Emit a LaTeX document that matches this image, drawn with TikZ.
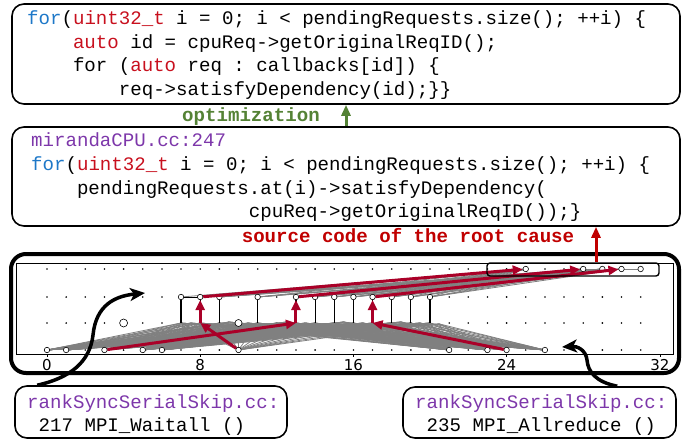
\documentclass[tikz,border=0pt]{standalone}
\usepackage{fontspec}
\setmonofont{Liberation Mono}
\setsansfont{DejaVu Sans}
\usetikzlibrary{arrows.meta}
\definecolor{kwblue}{RGB}{30,120,200}
\definecolor{kwred}{RGB}{200,16,30}
\definecolor{fpurple}{RGB}{125,55,170}
\definecolor{optgreen}{RGB}{84,130,53}
\definecolor{causered}{RGB}{192,0,0}
\definecolor{arrred}{RGB}{170,0,40}
\definecolor{edgegray}{RGB}{128,128,128}
\tikzset{
  codebox/.style={draw, line width=1.6pt, rounded corners=12pt, inner sep=0pt},
  code/.style={anchor=base west, inner sep=0pt, font=\fontsize{19.1}{24}\selectfont\ttfamily\frenchspacing},
  boldlbl/.style={anchor=base, inner sep=0pt, font=\fontsize{19.1}{24}\selectfont\ttfamily\bfseries\frenchspacing},
  axl/.style={anchor=center, inner sep=0pt, font=\fontsize{15}{15}\selectfont\sffamily},
  vtx/.style={circle, draw, fill=white, inner sep=0pt, minimum size=5.5pt, line width=0.6pt},
  gl/.style={draw=edgegray, line width=0.8pt},
  stem/.style={draw=black, line width=1.2pt},
  redarr/.style={draw=arrred, line width=3pt, -{Triangle[length=10pt,width=9pt]}},
  bigarr/.style={draw=black, line width=3.5pt, -{Stealth[length=15pt,width=13pt,inset=4pt]}},
  optarr/.style={draw=optgreen, line width=3pt, -{Triangle[length=11pt,width=9pt]}},
  rootarr/.style={draw=causered, line width=3pt, -{Triangle[length=11pt,width=9pt]}},
}
\begin{document}
\begin{tikzpicture}[x=1pt,y=-1pt]
\useasboundingbox (0,0) rectangle (694,441);

% ---------- code box 1 ----------
\node[codebox, minimum width=668pt, minimum height=100pt] (box1) at (346,54) {};
\node[code] (a1) at (27,25) {\textcolor{kwblue}{for}(\textcolor{kwred}{uint32\_t} i = 0; i < pendingRequests.size(); ++i) \{};
\node[code] (a2) at (72.8,48.5) {\textcolor{kwred}{auto} id = cpuReq->getOriginalReqID();};
\node[code] (a3) at (72.8,72) {for (\textcolor{kwred}{auto} req : callbacks[id]) \{};
\node[code] (a4) at (118.7,95.5) {req->satisfyDependency(id);\}\}};

% ---------- code box 2 ----------
\node[codebox, minimum width=668pt, minimum height=99pt] (box2) at (346,176.5) {};
\node[code] (c1) at (31,147) {\textcolor{fpurple}{mirandaCPU.cc:247}};
\node[code] (c2) at (31,170.5) {\textcolor{kwblue}{for}(\textcolor{kwred}{uint32\_t} i = 0; i < pendingRequests.size(); ++i) \{};
\node[code] (c3) at (76.8,194) {pendingRequests.at(i)->satisfyDependency(};
\node[code] (c4) at (248.7,217.5) {cpuReq->getOriginalReqID());\}};

% ---------- labels between boxes ----------
\node[boldlbl, text=optgreen] (opt) at (251,122) {optimization};
\draw[optarr] (box2.north) -- (box1.south);
\node[boldlbl, text=causered] (cause) at (408,242) {source code of the root cause};

% ---------- graph panel ----------
\node[draw, line width=4pt, rounded corners=15pt, minimum width=668pt, minimum height=119pt, inner sep=0pt] (panel) at (345,313.5) {};
\node[draw, line width=0.8pt, minimum width=657pt, minimum height=91pt, inner sep=0pt] (frame) at (344.5,308.5) {};

% grid coordinates and dots
\foreach \i in {0,...,31} {
  \foreach \r/\yy in {0/269,1/297,2/323,3/350} {
    \coordinate (g-\i-\r) at ({47+19.15*\i},\yy);
    \fill (g-\i-\r) circle (0.9pt);
  }
}
% ticks and axis labels
\foreach \i in {0,8,16,24,32} {
  \coordinate (tk\i) at ({47+19.15*\i},354);
  \draw[line width=0.6pt] (tk\i) -- ++(0,3);
  \node[axl] (xl\i) at ({47+19.15*\i},365) {\i};
}

% grey edges: left fan, V and right fan
\foreach \k in {7,...,20} {
  \coordinate (h\k) at ({47+19.15*(\k+0.5)},{322+mod(\k,3)});
  \foreach \s in {0,1,3,5,6} { \draw[gl] (g-\s-3) -- (g-\k-2); \draw[gl] (g-\s-3) -- (h\k); }
  \draw[gl] (g-\k-2) -- (g-10-3);
  \foreach \t in {21,23,24,26} { \draw[gl] (g-\k-2) -- (g-\t-3); \draw[gl] (h\k) -- (g-\t-3); }
}
% grey edges: upper band
\foreach \k in {8,9,11,13,14,15,16,17,18,19,20} {
  \foreach \t in {25,28,29,30} { \draw[gl] (g-\k-1) -- (g-\t-0); }
}
\draw[gl] (g-7-1) -- (g-25-0);
\draw[gl] (g-28-0) -- (g-29-0);
\draw[gl] (g-30-0) -- (g-31-0);

% stems
\foreach \k in {7,8,9,11,13,14,15,16,17,18,19,20} { \draw[stem] (g-\k-1) -- (g-\k-2); }
\draw[line width=0.8pt] (g-7-1) -- (g-8-1);

% vertices
\foreach \i in {0,1,3,5,6,10,21,23,24,26} { \node[vtx] (b\i) at (g-\i-3) {}; }
\foreach \i in {7,8,9,11,13,14,15,16,17,18,19,20} { \node[vtx] (m\i) at (g-\i-1) {}; }
\foreach \i in {25,28,29,30,31} { \node[vtx] (t\i) at (g-\i-0) {}; }
\node[vtx, minimum size=8pt] (s4) at (g-4-2) {};
\node[vtx, minimum size=7pt] (s10) at (g-10-2) {};

% red critical path
\draw[redarr] (b10) -- (g-8-2);
\draw[redarr] (g-8-2) -- (m8);
\draw[redarr] (m8) -- (t25);
\draw[redarr] (b3) -- (g-13-2);
\draw[redarr] (g-13-2) -- (m13);
\draw[redarr] (m13) -- (t28);
\draw[redarr] (b24) -- (g-17-2);
\draw[redarr] (g-17-2) -- (m17);
\draw[redarr] (m17) -- (t30);

% highlight box and root-cause arrow
\node[draw, line width=1.4pt, rounded corners=3pt, minimum width=172pt, minimum height=13pt, inner sep=0pt] (hl) at (573,269.5) {};
\draw[rootarr] ([xshift=23pt]hl.north) -- ([xshift=23pt]hl.north |- box2.south);

% ---------- bottom boxes ----------
\node[codebox, minimum width=272pt, minimum height=52pt] (bl) at (151,412) {};
\node[code] (bl1) at (27,408) {\textcolor{fpurple}{rankSyncSerialSkip.cc:}};
\node[code] (bl2) at (38.5,431) {217 MPI\_Waitall ()};
\node[codebox, minimum width=273pt, minimum height=51pt] (br) at (539.5,412.5) {};
\node[code] (br1) at (415,408) {\textcolor{fpurple}{rankSyncSerialSkip.cc:}};
\node[code] (br2) at (426.5,431) {235 MPI\_Allreduce ()};

% curved pointers
\coordinate (lend) at (145,293);
\coordinate (rend) at (562,347);
\draw[bigarr] ([xshift=23pt]bl.north west) .. controls (70,378) and (90,362) .. (93,335)
      .. controls (96,305) and (115,296) .. (lend);
\draw[bigarr] ([xshift=215pt]br.north west) .. controls (596,382) and (588,372) .. (587,360)
      .. controls (586,350) and (577,346) .. (rend);
\end{tikzpicture}
\end{document}
